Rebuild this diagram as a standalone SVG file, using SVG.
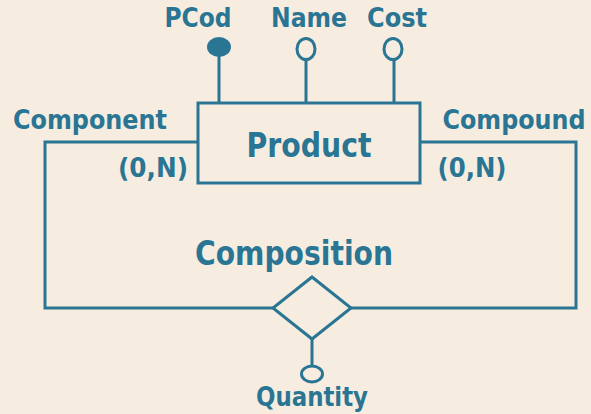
<svg xmlns="http://www.w3.org/2000/svg" width="591" height="414" viewBox="0 0 591 414">
<style>
.ln{stroke:#2a7594;stroke-width:3;fill:none}
.t{font-family:"DejaVu Sans Condensed","DejaVu Sans",sans-serif;font-weight:bold;fill:#2a7594;font-size:27px}
.big{font-size:33px}
.m{text-anchor:middle}
</style>
<rect width="591" height="414" fill="#f6ede0"/>
<g id="connectors">
<polyline class="ln" points="198,142 45,142 45,308 273,308"/>
<polyline class="ln" points="420,142 576,142 576,308 351,308"/>
<line class="ln" x1="219" y1="55" x2="219" y2="103"/>
<line class="ln" x1="306" y1="58" x2="306" y2="103"/>
<line class="ln" x1="394" y1="58" x2="394" y2="103"/>
<line class="ln" x1="312" y1="339" x2="312" y2="366"/>
</g>
<g id="product">
<rect class="ln" x="198" y="103" width="222" height="80"/>
<text class="t big m" x="309" y="157" textLength="125" lengthAdjust="spacingAndGlyphs">Product</text>
</g>
<g id="pcod">
<ellipse cx="219" cy="47" rx="12" ry="10" fill="#2a7594"/>
<text class="t m" x="198" y="27" textLength="67" lengthAdjust="spacingAndGlyphs">PCod</text>
</g>
<g id="name">
<ellipse class="ln" cx="306" cy="49" rx="9" ry="10.5" stroke-width="2.5"/>
<text class="t m" x="309" y="27" textLength="76" lengthAdjust="spacingAndGlyphs">Name</text>
</g>
<g id="cost">
<ellipse class="ln" cx="393" cy="49" rx="9" ry="10.5" stroke-width="2.5"/>
<text class="t m" x="397" y="27" textLength="60" lengthAdjust="spacingAndGlyphs">Cost</text>
</g>
<g id="composition">
<polygon class="ln" points="312,277 351,308 312,339 273,308"/>
<text class="t big m" x="294" y="265" textLength="198" lengthAdjust="spacingAndGlyphs">Composition</text>
</g>
<g id="quantity">
<ellipse class="ln" cx="312" cy="374" rx="10.5" ry="8" stroke-width="2.5"/>
<text class="t m" x="312" y="406" textLength="112" lengthAdjust="spacingAndGlyphs">Quantity</text>
</g>
<g id="labels">
<text class="t m" x="90" y="129" textLength="154" lengthAdjust="spacingAndGlyphs">Component</text>
<text class="t m" x="514" y="129" textLength="143" lengthAdjust="spacingAndGlyphs">Compound</text>
<text class="t m" x="153" y="177" textLength="70" lengthAdjust="spacingAndGlyphs">(0,N)</text>
<text class="t m" x="472" y="177" textLength="69" lengthAdjust="spacingAndGlyphs">(0,N)</text>
</g>
</svg>
